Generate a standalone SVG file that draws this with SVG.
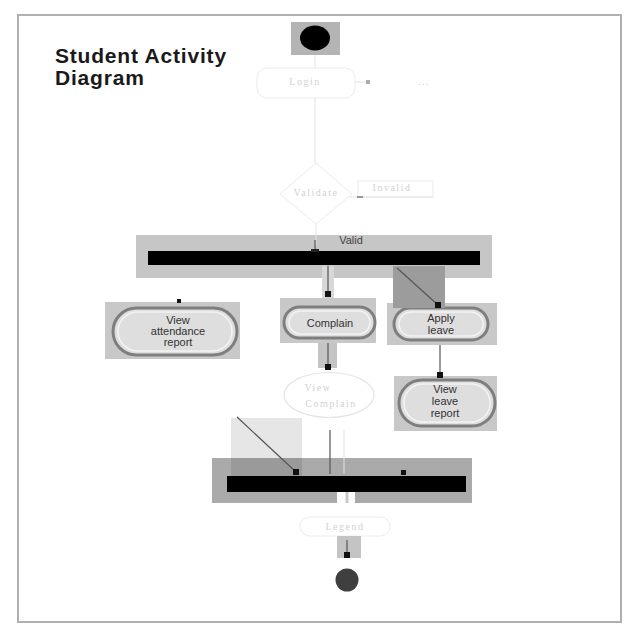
<svg xmlns="http://www.w3.org/2000/svg" width="640" height="640" viewBox="0 0 640 640">
<defs>
<style>
.frame{fill:none;stroke:#b0b0b0;stroke-width:2}
.title{font-family:"Liberation Sans",Arial,sans-serif;font-weight:bold;font-size:21px;fill:#1a1a1a;letter-spacing:0.8px}
.bg{fill:#c8c8c8}
.pill{fill:#dedede;stroke:#7e7e7e;stroke-width:3}
.pillin{fill:none;stroke:#f4f4f4;stroke-width:1.5}
.lbl{font-family:"Liberation Sans",Arial,sans-serif;font-size:11px;fill:#333;text-anchor:middle}
.faint{fill:none;stroke:#ebebeb;stroke-width:1}
.ftxt{font-family:"Liberation Serif",serif;font-size:10px;fill:#d2d2d2;text-anchor:middle;letter-spacing:1.5px}
.conn{stroke:#555;stroke-width:1.2;fill:none}
.fconn{stroke:#e2e2e2;stroke-width:1;fill:none}
</style>
<marker id="ah" markerWidth="6" markerHeight="6" refX="3" refY="3" orient="0" markerUnits="userSpaceOnUse"><rect x="0" y="0" width="6" height="6" fill="#111"/></marker>
</defs>
<rect width="640" height="640" fill="#fff"/>
<rect class="frame" x="18" y="15" width="603" height="607"/>
<g id="title">
<text class="title" x="55" y="63">Student Activity</text>
<text class="title" x="55" y="85">Diagram</text>
</g>
<g id="start">
<rect x="291" y="22" width="49" height="33" fill="#b4b4b4"/>
<ellipse cx="315" cy="38" rx="15" ry="12.5" fill="#000"/>
</g>
<g id="login">
<rect class="faint" x="257" y="68" width="98" height="30" rx="10"/>
<text class="ftxt" x="305" y="85">Login</text>
<text class="ftxt" x="424" y="85">...</text>
</g>
<g id="validate">
<polygon class="faint" points="316,163 352,194 316,224 280,194"/>
<text class="ftxt" x="316" y="196">Validate</text>
</g>
<g id="invalid">
<rect class="faint" x="358" y="181" width="75" height="16"/>
<text class="ftxt" x="392" y="191">Invalid</text>
</g>
<g id="fork">
<rect x="136" y="235" width="356" height="43" fill="#c6c6c6"/>
<rect x="148" y="251" width="332" height="14" fill="#000"/>
<text x="351" y="244" font-family="Liberation Sans,Arial,sans-serif" font-size="11" fill="#444" text-anchor="middle">Valid</text>
</g>
<g id="viewAttendance">
<rect class="bg" x="105" y="302" width="135" height="57"/>
<rect class="pill" x="113" y="308" width="124" height="47" rx="23.5"/>
<rect class="pillin" x="118" y="312" width="114" height="39" rx="19.5"/>
<text class="lbl" x="178" y="324">View</text>
<text class="lbl" x="178" y="335">attendance</text>
<text class="lbl" x="178" y="346">report</text>
</g>
<g id="complain">
<rect class="bg" x="280" y="298" width="96" height="45" fill="#d4d4d4"/>
<rect class="pill" x="284" y="307" width="91" height="31" rx="15.5"/>
<rect class="pillin" x="289" y="311" width="81" height="23" rx="11.5"/>
<text class="lbl" x="330" y="327" font-size="12">Complain</text>
</g>
<g id="applyLeave">
<rect class="bg" x="387" y="303" width="110" height="42" fill="#d4d4d4"/>
<rect class="pill" x="394" y="308" width="94" height="32" rx="16"/>
<rect class="pillin" x="399" y="312" width="84" height="24" rx="12"/>
<text class="lbl" x="441" y="322">Apply</text>
<text class="lbl" x="441" y="334">leave</text>
</g>
<g id="viewComplain">
<ellipse cx="329" cy="395" rx="45" ry="22.5" fill="#fff" stroke="#e4e4e4" stroke-width="1.2"/>
<text class="ftxt" x="318" y="391">View</text>
<text class="ftxt" x="331" y="407">Complain</text>
</g>
<g id="viewLeave">
<rect class="bg" x="394" y="376" width="103" height="55" fill="#d4d4d4"/>
<rect class="pill" x="399" y="380" width="96" height="46" rx="23"/>
<rect class="pillin" x="404" y="384" width="86" height="38" rx="19"/>
<text class="lbl" x="445" y="393">View</text>
<text class="lbl" x="445" y="405">leave</text>
<text class="lbl" x="445" y="417">report</text>
</g>
<g id="join">
<rect x="231" y="418" width="71" height="40" fill="#e6e6e6"/>
<rect x="212" y="458" width="260" height="45" fill="#aaaaaa"/>
<rect x="231" y="458" width="71" height="18" fill="#9a9a9a"/>
<rect x="337" y="492" width="18" height="11" fill="#fff"/>
<line x1="347" y1="492" x2="347" y2="503" stroke="#c8c8c8" stroke-width="3"/>
<rect x="227" y="476" width="239" height="16" fill="#000"/>
</g>
<g id="legend">
<rect class="faint" x="300" y="517" width="90" height="19" rx="9.5"/>
<text class="ftxt" x="345" y="530">Legend</text>
</g>
<g id="end">
<rect x="337" y="536" width="24" height="22" fill="#c4c4c4"/>
<circle cx="347" cy="580" r="11.5" fill="#3f3f3f"/>
</g>
<g id="connectors">
<line class="fconn" x1="315" y1="55" x2="315" y2="68"/>
<line class="fconn" x1="315" y1="98" x2="315" y2="163"/>
<line class="fconn" x1="355" y1="82" x2="370" y2="82"/>
<rect x="366" y="80" width="4" height="4" fill="#aaa"/>
<line class="fconn" x1="350" y1="197" x2="433" y2="197"/>
<rect x="357" y="196" width="6" height="2" fill="#999"/>
<line class="fconn" x1="316" y1="224" x2="316" y2="245"/>
<line class="conn" x1="315" y1="240" x2="315" y2="251"/>
<rect x="311" y="249" width="8" height="3" fill="#222"/>
<rect x="322" y="266" width="12" height="32" fill="#d8d8d8"/>
<line class="conn" x1="328" y1="266" x2="328" y2="294" marker-end="url(#ah)"/>
<rect x="393" y="266" width="52" height="42" fill="#9c9c9c"/>
<line class="conn" x1="397" y1="268" x2="438" y2="305" marker-end="url(#ah)"/>
<rect x="177" y="299" width="4" height="4" fill="#111"/>
<rect x="318" y="343" width="19" height="25" fill="#c4c4c4"/>
<line class="conn" x1="328" y1="343" x2="328" y2="367" marker-end="url(#ah)"/>
<line class="conn" x1="440" y1="345" x2="440" y2="375" marker-end="url(#ah)"/>
<line class="conn" x1="237" y1="417" x2="296" y2="472" marker-end="url(#ah)"/>
<line class="conn" x1="330" y1="430" x2="330" y2="474"/>
<line class="fconn" x1="344" y1="430" x2="344" y2="474"/>
<rect x="401" y="470" width="5" height="5" fill="#111"/>
<line class="conn" x1="347" y1="540" x2="347" y2="555" marker-end="url(#ah)"/>
</g>
</svg>
